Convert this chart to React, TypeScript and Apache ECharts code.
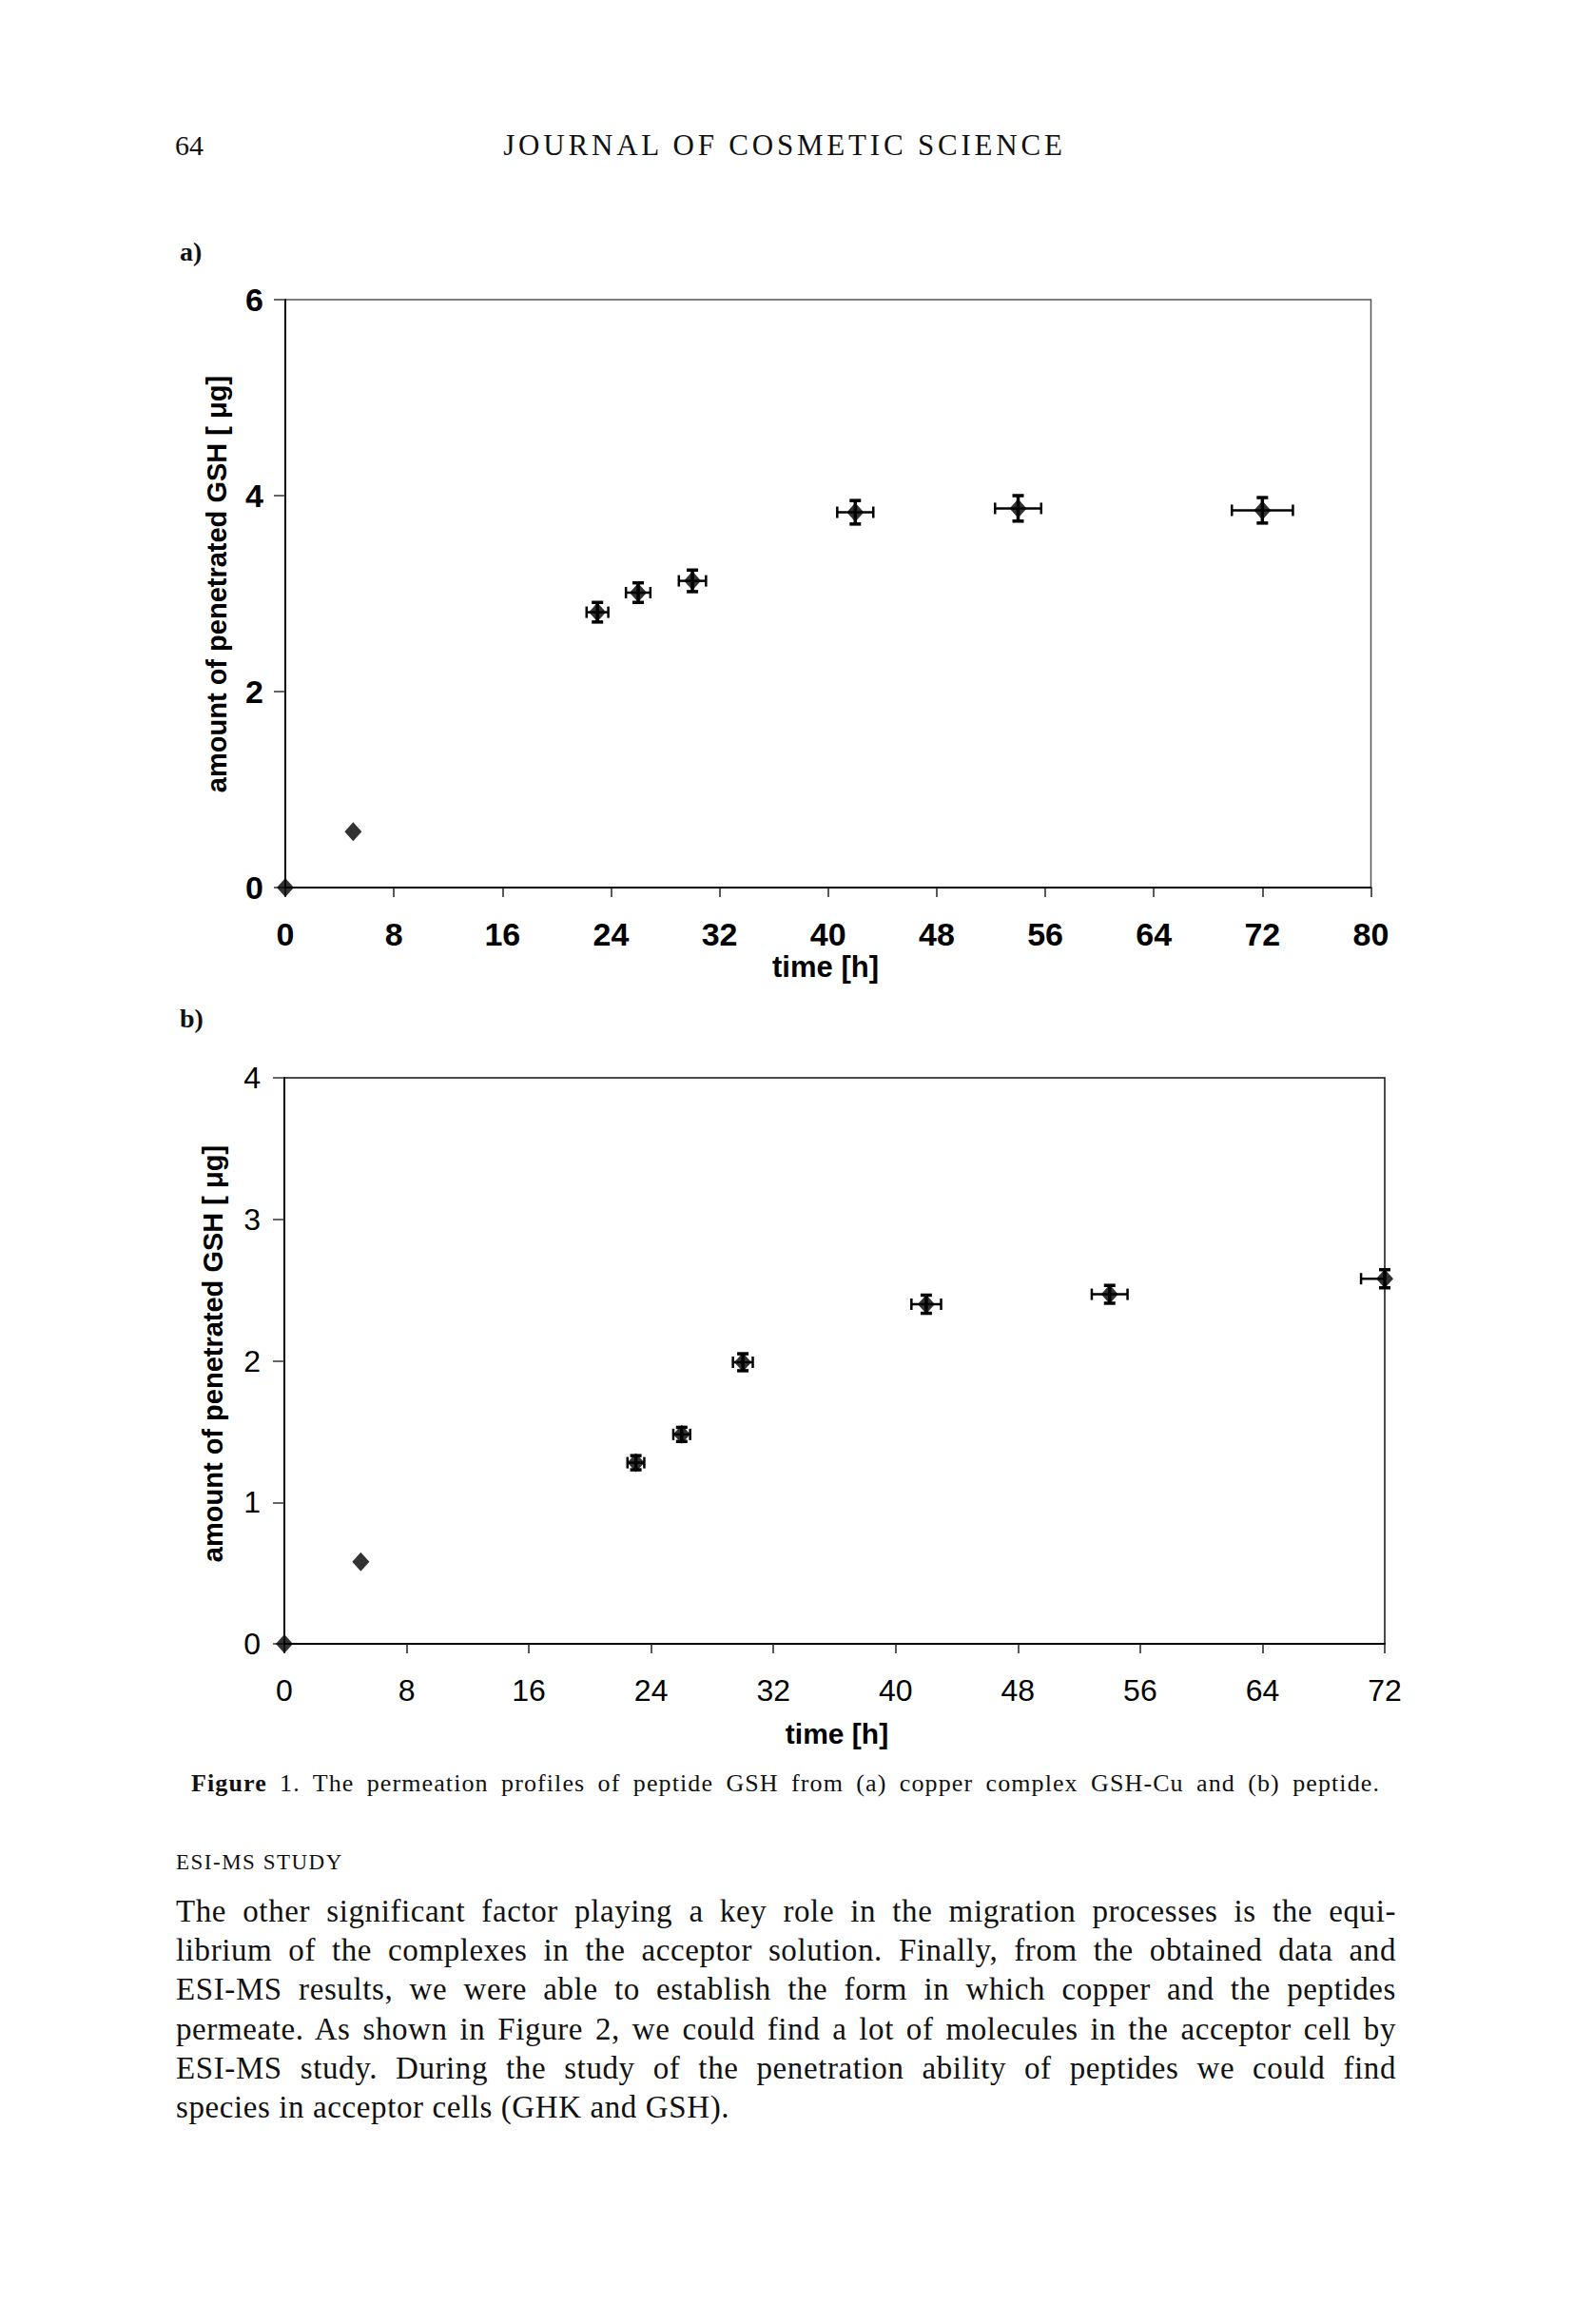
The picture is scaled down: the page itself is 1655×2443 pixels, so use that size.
import React, { useEffect, useRef } from "react";
import * as echarts from "echarts";

// ---- data: panel a) copper complex GSH-Cu ----
const timesA = [0, 5, 23, 26, 30, 42, 54, 72];
const amountA = [0, 0.57, 2.81, 3.01, 3.13, 3.83, 3.87, 3.85];
const xErrLeftA = [0, 0, 0.8, 0.9, 1.0, 1.33, 1.7, 2.25];
const xErrRightA = [0, 0, 0.8, 0.9, 1.0, 1.33, 1.7, 2.25];
const yErrA = [0, 0, 0.1, 0.1, 0.11, 0.12, 0.13, 0.13];
const xMaxA = 80;
const xStepA = 8;
const yMaxA = 6;
const yStepA = 2;

// ---- data: panel b) peptide ----
const timesB = [0, 5, 23, 26, 30, 42, 54, 72];
const amountB = [0, 0.58, 1.28, 1.48, 1.99, 2.4, 2.47, 2.58];
const xErrLeftB = [0, 0, 0.55, 0.55, 0.65, 0.97, 1.17, 1.55];
const xErrRightB = [0, 0, 0.55, 0.55, 0.65, 0.97, 1.17, 0];
const yErrB = [0, 0, 0.05, 0.05, 0.06, 0.064, 0.063, 0.064];
const xMaxB = 72;
const xStepB = 8;
const yMaxB = 4;
const yStepB = 1;

const yTitle = "amount of penetrated GSH [ \u03bcg]";
const xTitle = "time [h]";

const paragraphLines = [
  "The other significant factor playing a key role in the migration processes is the equi-",
  "librium of the complexes in the acceptor solution. Finally, from the obtained data and",
  "ESI-MS results, we were able to establish the form in which copper and the peptides",
  "permeate. As shown in Figure 2, we could find a lot of molecules in the acceptor cell by",
  "ESI-MS study. During the study of the penetration ability of peptides we could find",
  "species in acceptor cells (GHK and GSH).",
];

function errorBarRender(params: any, api: any) {
  const x = api.value(0);
  const y = api.value(1);
  const xl = api.value(2);
  const xr = api.value(3);
  const ye = api.value(4);
  const children: any[] = [];
  const hStyle = { stroke: "#000", lineWidth: 2.5 };
  const vStyle = { stroke: "#000", lineWidth: 3.5 };
  const cap = 6;
  if (xl > 0 || xr > 0) {
    const pl = api.coord([x - xl, y]);
    const pr = api.coord([x + xr, y]);
    children.push({ type: "line", shape: { x1: pl[0], y1: pl[1], x2: pr[0], y2: pr[1] }, style: hStyle });
    if (xl > 0) children.push({ type: "line", shape: { x1: pl[0], y1: pl[1] - cap, x2: pl[0], y2: pl[1] + cap }, style: hStyle });
    if (xr > 0) children.push({ type: "line", shape: { x1: pr[0], y1: pr[1] - cap, x2: pr[0], y2: pr[1] + cap }, style: hStyle });
  }
  if (ye > 0) {
    const pt = api.coord([x, y + ye]);
    const pb = api.coord([x, y - ye]);
    children.push({ type: "line", shape: { x1: pt[0], y1: pt[1], x2: pb[0], y2: pb[1] }, style: vStyle });
    children.push({ type: "line", shape: { x1: pt[0] - cap, y1: pt[1], x2: pt[0] + cap, y2: pt[1] }, style: vStyle });
    children.push({ type: "line", shape: { x1: pb[0] - cap, y1: pb[1], x2: pb[0] + cap, y2: pb[1] }, style: vStyle });
  }
  return { type: "group", children };
}

function axisX(gridIndex: number, max: number, step: number, bold: boolean, margin: number, size: number) {
  return {
    type: "value",
    gridIndex,
    min: 0,
    max,
    interval: step,
    axisLine: { show: true, onZero: false, lineStyle: { color: "#000", width: 2 } },
    axisTick: { show: true, length: 10, lineStyle: { color: "#222", width: 1.5 } },
    axisLabel: {
      margin,
      color: "#000",
      fontSize: size,
      fontWeight: bold ? "bold" : "normal",
      fontFamily: "Liberation Sans",
    },
    splitLine: { show: false },
  };
}

function axisY(gridIndex: number, max: number, step: number, bold: boolean, margin: number, size: number) {
  return {
    type: "value",
    gridIndex,
    min: 0,
    max,
    interval: step,
    axisLine: { show: true, onZero: false, lineStyle: { color: "#000", width: 2 } },
    axisTick: { show: true, length: 12, lineStyle: { color: "#333", width: 1.5 } },
    axisLabel: {
      margin,
      color: "#000",
      fontSize: size,
      fontWeight: bold ? "bold" : "normal",
      fontFamily: "Liberation Sans",
    },
    splitLine: { show: false },
  };
}

function seriesFor(idx: number, times: number[], amount: number[], xl: number[], xr: number[], ye: number[]) {
  return [
    {
      type: "custom",
      xAxisIndex: idx,
      yAxisIndex: idx,
      renderItem: errorBarRender,
      data: times.map((t, i) => [t, amount[i], xl[i], xr[i], ye[i]]),
      encode: { x: 0, y: 1 },
      clip: false,
      z: 3,
    },
    {
      type: "scatter",
      xAxisIndex: idx,
      yAxisIndex: idx,
      data: times.map((t, i) => [t, amount[i]]),
      symbol: "diamond",
      symbolSize: [18, 20],
      itemStyle: { color: "#000" },
      clip: false,
      z: 4,
    },
  ];
}

function titleText(x: number, y: number, text: string, rotate: boolean, size: number) {
  return {
    type: "text",
    x,
    y,
    rotation: rotate ? Math.PI / 2 : 0,
    style: {
      text,
      fill: "#000",
      fontSize: size,
      fontWeight: "bold",
      fontFamily: "Liberation Sans",
      align: "center",
      verticalAlign: "middle",
    },
  };
}

export default function App() {
  const ref = useRef<HTMLDivElement>(null);

  useEffect(() => {
    if (!ref.current) return;
    const chart = echarts.init(ref.current, undefined, { renderer: "svg" });
    chart.setOption({
      animation: false,
      backgroundColor: "#fff",
      grid: [
        { left: 300, top: 315, width: 1141.5, height: 618, show: true, borderColor: "#555", borderWidth: 1.5 },
        { left: 299, top: 1133, width: 1157, height: 595, show: true, borderColor: "#111", borderWidth: 1.5 },
      ],
      xAxis: [axisX(0, xMaxA, xStepA, true, 32, 34), axisX(1, xMaxB, xStepB, false, 33, 32)],
      yAxis: [axisY(0, yMaxA, yStepA, true, 23, 34), axisY(1, yMaxB, yStepB, false, 25, 32)],
      series: [
        ...seriesFor(0, timesA, amountA, xErrLeftA, xErrRightA, yErrA),
        ...seriesFor(1, timesB, amountB, xErrLeftB, xErrRightB, yErrB),
      ],
      graphic: [
        titleText(228, 614, yTitle, true, 29),
        titleText(868, 1016, xTitle, false, 31),
        titleText(224, 1423, yTitle, true, 29),
        titleText(880, 1822, xTitle, false, 30),
      ],
    });
    return () => chart.dispose();
  }, []);

  const serif = '"Liberation Serif", "Times New Roman", serif';
  const abs = (extra: React.CSSProperties): React.CSSProperties => ({
    position: "absolute",
    margin: 0,
    color: "#111",
    fontFamily: serif,
    whiteSpace: "pre",
    ...extra,
  });

  return (
    <div style={{ position: "absolute", left: 0, top: 0, width: 1655, height: 2443, background: "#fff" }}>
      <div ref={ref} style={{ position: "absolute", left: 0, top: 0, width: 1655, height: 2443 }} />
      <div style={abs({ left: 184, top: 138, fontSize: 30, lineHeight: "30px" })}>64</div>
      <div style={abs({ left: 525, top: 137, width: 600, textAlign: "center", fontSize: 31, lineHeight: "31px", letterSpacing: "3.8px" })}>
        JOURNAL OF COSMETIC SCIENCE
      </div>
      <div style={abs({ left: 189, top: 251, fontSize: 28, lineHeight: "28px", fontWeight: "bold" })}>a)</div>
      <div style={abs({ left: 189, top: 1057, fontSize: 28, lineHeight: "28px", fontWeight: "bold" })}>b)</div>
      <div
        style={abs({
          left: 201,
          top: 1862,
          width: 1250,
          fontSize: 26,
          lineHeight: "26px",
          letterSpacing: "1.1px",
          whiteSpace: "normal",
          textAlign: "justify",
          textAlignLast: "justify",
        })}
      >
        <span style={{ fontWeight: "bold" }}>Figure</span> 1. The permeation profiles of peptide GSH from (a) copper complex GSH-Cu and (b) peptide.
      </div>
      <div style={abs({ left: 185, top: 1946, fontSize: 23, lineHeight: "23px", letterSpacing: "1.5px" })}>ESI-MS STUDY</div>
      {paragraphLines.map((line, i) => (
        <div
          key={i}
          style={abs({
            left: 185,
            top: 2012 + 41.2 * i - 19,
            width: 1283,
            fontSize: 33,
            lineHeight: "33px",
            letterSpacing: "0.6px",
            whiteSpace: "normal",
            textAlign: "justify",
            textAlignLast: i === paragraphLines.length - 1 ? "left" : "justify",
          })}
        >
          {line}
        </div>
      ))}
    </div>
  );
}
